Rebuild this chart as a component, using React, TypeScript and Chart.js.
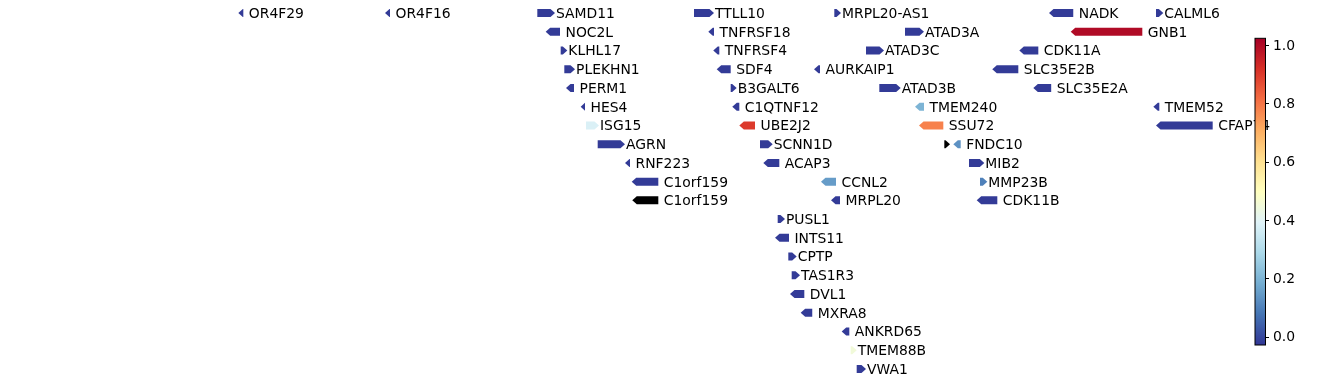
import { useEffect, useRef } from "react";
import { Chart, registerables } from "chart.js";

Chart.register(...registerables);

// Gene track: genomic positions in kb (chr1), rows, strand, score (null = no score -> black)
const geneNames = [
  "OR4F29", "OR4F16", "SAMD11", "NOC2L", "KLHL17", "PLEKHN1", "PERM1", "HES4", "ISG15", "AGRN",
  "RNF223", "C1orf159", "C1orf159", "TTLL10", "TNFRSF18", "TNFRSF4", "SDF4", "B3GALT6", "C1QTNF12", "UBE2J2",
  "SCNN1D", "ACAP3", "PUSL1", "INTS11", "CPTP", "TAS1R3", "DVL1", "MXRA8", "AURKAIP1", "CCNL2",
  "MRPL20", "MRPL20-AS1", "ANKRD65", "TMEM88B", "VWA1", "ATAD3C", "ATAD3B", "ATAD3A", "TMEM240", "SSU72",
  "", "FNDC10", "MIB2", "MMP23B", "CDK11B", "SLC35E2B", "CDK11A", "SLC35E2A", "NADK", "GNB1",
  "TMEM52", "CALML6", "CFAP74",
];
const geneRows = [
  0, 0, 0, 1, 2, 3, 4, 5, 6, 7,
  8, 9, 10, 0, 1, 2, 3, 4, 5, 6,
  7, 8, 11, 12, 13, 14, 15, 16, 3, 9,
  10, 0, 17, 18, 19, 2, 4, 1, 5, 6,
  7, 7, 8, 9, 10, 3, 2, 4, 0, 1,
  5, 0, 6,
];
const geneStarts = [
  448.3, 683.7, 928.2, 941.6, 965.7, 971.5, 974.2, 997.8, 1006.3, 1025.1,
  1068.9, 1079.7, 1080.6, 1179.7, 1202.6, 1210.6, 1216.1, 1238.6, 1241.1, 1252.4,
  1285.6, 1290.9, 1314.0, 1309.7, 1331.0, 1336.5, 1333.8, 1350.9, 1372.3, 1383.5,
  1399.6, 1404.9, 1416.7, 1431.2, 1440.8, 1455.7, 1477.1, 1518.3, 1534.4, 1540.8,
  1581.4, 1595.9, 1621.0, 1638.7, 1633.4, 1658.4, 1701.8, 1724.3, 1749.4, 1784.3,
  1916.9, 1921.2, 1921.2,
];
const geneEnds = [
  456.3, 691.8, 956.6, 964.6, 976.3, 988.7, 987.1, 1004.7, 1027.2, 1068.9,
  1077.0, 1122.4, 1122.4, 1211.8, 1211.8, 1220.3, 1238.6, 1248.2, 1252.4, 1277.6,
  1306.0, 1316.6, 1325.7, 1332.1, 1344.5, 1349.8, 1356.7, 1369.5, 1381.9, 1407.6,
  1414.0, 1415.6, 1428.9, 1440.8, 1455.7, 1484.6, 1511.4, 1548.8, 1548.8, 1579.8,
  1590.6, 1607.7, 1645.6, 1650.4, 1666.5, 1700.2, 1732.3, 1753.0, 1788.4, 1899.2,
  1926.5, 1932.9, 2012.2,
];
const geneStrands = [
  -1, -1, 1, -1, 1, 1, -1, -1, 1, 1,
  -1, -1, -1, 1, -1, -1, -1, 1, -1, -1,
  1, -1, 1, -1, 1, 1, -1, -1, -1, -1,
  -1, 1, -1, 1, 1, 1, 1, 1, -1, -1,
  1, -1, 1, 1, -1, -1, -1, -1, -1, -1,
  -1, 1, -1,
];
const geneScores: (number | null)[] = [
  -0.02, -0.02, -0.02, -0.02, -0.02, -0.02, -0.02, -0.02, 0.38, -0.02,
  -0.02, -0.02, null, -0.02, -0.02, -0.02, -0.02, -0.02, -0.02, 0.9,
  -0.02, -0.02, -0.02, -0.02, -0.02, -0.02, -0.02, -0.02, -0.02, 0.15,
  -0.02, -0.02, -0.02, 0.45, -0.02, -0.02, -0.02, -0.02, 0.2, 0.78,
  null, 0.13, -0.02, 0.1, -0.02, -0.02, -0.02, -0.02, -0.02, 1.0,
  -0.02, -0.02, -0.02,
];
const rowLabels = Array.from({ length: 20 }, (_, i) => String(i));
const colorbarTicks = [0.0, 0.2, 0.4, 0.6, 0.8, 1.0];
const colorMin = -0.028;
const colorMax = 1.023;
const xMin = 65.8;
const xMax = 2056;

// RdYlBu_r
const cmapStops = [
  "#313695", "#4575b4", "#74add1", "#abd9e9", "#e0f3f8", "#ffffbf",
  "#fee090", "#fdae61", "#f46d43", "#d73027", "#a50026",
];

function hexToRgb(h: string) {
  return [parseInt(h.slice(1, 3), 16), parseInt(h.slice(3, 5), 16), parseInt(h.slice(5, 7), 16)];
}

function cmap(t: number) {
  const c = Math.max(0, Math.min(1, t)) * (cmapStops.length - 1);
  const i = Math.min(Math.floor(c), cmapStops.length - 2);
  const f = c - i;
  const a = hexToRgb(cmapStops[i]);
  const b = hexToRgb(cmapStops[i + 1]);
  const r = a.map((v, k) => Math.round(v + (b[k] - v) * f));
  return `rgb(${r[0]},${r[1]},${r[2]})`;
}

function scoreColor(v: number | null) {
  if (v === null) return "#000000";
  return cmap((v - colorMin) / (colorMax - colorMin));
}

const FONT = '13.9px "DejaVu Sans"';

const genePlugin = {
  id: "geneArrows",
  afterDatasetsDraw(chart: any) {
    const ctx = chart.ctx as CanvasRenderingContext2D;
    const meta = chart.getDatasetMeta(0);
    ctx.save();
    meta.data.forEach((el: any, i: number) => {
      const p = el.getProps(["x", "y", "base", "height"], true);
      const left = Math.min(p.x, p.base);
      const right = Math.max(p.x, p.base);
      const h = p.height / 2;
      const y = p.y;
      const tip = Math.min(4.5, right - left);
      ctx.fillStyle = scoreColor(geneScores[i]);
      ctx.beginPath();
      if (geneStrands[i] > 0) {
        ctx.moveTo(left, y - h);
        ctx.lineTo(right - tip, y - h);
        ctx.lineTo(right, y);
        ctx.lineTo(right - tip, y + h);
        ctx.lineTo(left, y + h);
      } else {
        ctx.moveTo(right, y - h);
        ctx.lineTo(left + tip, y - h);
        ctx.lineTo(left, y);
        ctx.lineTo(left + tip, y + h);
        ctx.lineTo(right, y + h);
      }
      ctx.closePath();
      ctx.fill();
      if (geneNames[i]) {
        ctx.fillStyle = "#000000";
        ctx.font = FONT;
        ctx.textBaseline = "middle";
        ctx.textAlign = "left";
        ctx.fillText(geneNames[i], right + (geneStrands[i] > 0 ? 1 : 5.5), y + 1.3);
      }
    });
    ctx.restore();
  },
  afterDraw(chart: any) {
    const ctx = chart.ctx as CanvasRenderingContext2D;
    const cbLeft = 1255;
    const cbRight = 1265.5;
    const cbTop = 38.3;
    const cbBottom = 345;
    ctx.save();
    const grad = ctx.createLinearGradient(0, cbBottom, 0, cbTop);
    for (let k = 0; k <= 50; k++) grad.addColorStop(k / 50, cmap(k / 50));
    ctx.fillStyle = grad;
    ctx.fillRect(cbLeft, cbTop, cbRight - cbLeft, cbBottom - cbTop);
    ctx.strokeStyle = "#000000";
    ctx.lineWidth = 1;
    ctx.strokeRect(cbLeft, cbTop, cbRight - cbLeft, cbBottom - cbTop);
    ctx.font = FONT;
    ctx.fillStyle = "#000000";
    ctx.textBaseline = "middle";
    ctx.textAlign = "left";
    colorbarTicks.forEach((t) => {
      const y = cbBottom - ((t - colorMin) / (colorMax - colorMin)) * (cbBottom - cbTop);
      ctx.beginPath();
      ctx.moveTo(cbRight, Math.round(y) + 0.5);
      ctx.lineTo(cbRight + 3.5, Math.round(y) + 0.5);
      ctx.stroke();
      ctx.fillText(t.toFixed(1), cbRight + 7.5, y + 1);
    });
    ctx.restore();
  },
};

export default function App() {
  const ref = useRef<HTMLCanvasElement | null>(null);
  useEffect(() => {
    document.body.style.margin = "0";
    const canvas = ref.current;
    if (!canvas) return;
    const chart = new Chart(canvas, {
      type: "bar",
      data: {
        labels: rowLabels,
        datasets: [
          {
            data: geneNames.map((_, i) => ({
              y: String(geneRows[i]),
              x: [geneStarts[i], geneEnds[i]],
            })) as any,
            backgroundColor: "rgba(0,0,0,0)",
            borderWidth: 0,
            barThickness: 8,
          },
        ],
      },
      options: {
        indexAxis: "y",
        responsive: false,
        animation: false,
        devicePixelRatio: 1,
        layout: { padding: { left: 0, right: 98, top: 3.6, bottom: 4.6 } },
        plugins: { legend: { display: false }, tooltip: { enabled: false } },
        scales: {
          x: { type: "linear", min: xMin, max: xMax, display: false },
          y: { type: "category", display: false, offset: true },
        },
      },
      plugins: [genePlugin],
    });
    return () => chart.destroy();
  }, []);
  return <canvas ref={ref} width={1338} height={383} style={{ display: "block" }} />;
}
